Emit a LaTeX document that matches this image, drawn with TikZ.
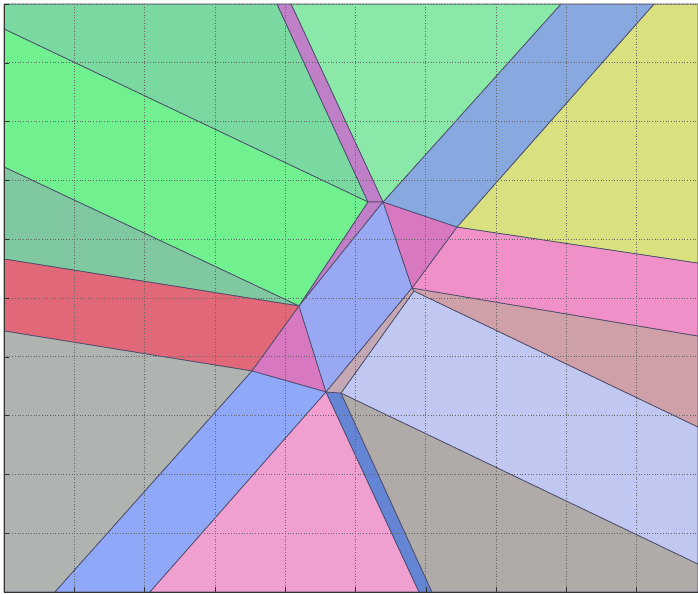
\documentclass[tikz,border=0pt]{standalone}
\usepackage{xcolor}
\definecolor{cDkGreen}{HTML}{7AD9A0}
\definecolor{cLtGreen}{HTML}{70F08E}
\definecolor{cGrGreen}{HTML}{80C8A0}
\definecolor{cRed}{HTML}{E06878}
\definecolor{cGrayL}{HTML}{B0B4B0}
\definecolor{cBlueL}{HTML}{90A8F8}
\definecolor{cPinkB}{HTML}{F0A0D0}
\definecolor{cDkBlue}{HTML}{6484D4}
\definecolor{cGrayR}{HTML}{B0AAA8}
\definecolor{cLav}{HTML}{C0C8F2}
\definecolor{cBrown}{HTML}{D0A0A8}
\definecolor{cPinkR}{HTML}{F090C8}
\definecolor{cMag}{HTML}{D878C0}
\definecolor{cYellow}{HTML}{D8E080}
\definecolor{cBlueT}{HTML}{88A8E0}
\definecolor{cTopGreen}{HTML}{8AE8A8}
\definecolor{cPurple}{HTML}{C080C8}
\definecolor{cCenter}{HTML}{98A8F2}
\definecolor{cTan}{HTML}{C4A8B4}
\definecolor{cEdge}{HTML}{4A4A6A}
\tikzset{
  region/.style={draw=cEdge, line width=0.7pt, line join=round},
  gridline/.style={draw=black!60, line width=0.7pt, dotted},
  frame/.style={draw=black!80, line width=0.9pt}
}
\begin{document}
\begin{tikzpicture}[x=1pt,y=-1pt]
\useasboundingbox (0,0) rectangle (698,594);
\fill[white] (0,0) rectangle (698,594);
% vertices
\coordinate (P1) at (368,202);
\coordinate (P2) at (383,202);
\coordinate (P3) at (299,306);
\coordinate (P4) at (412,288);
\coordinate (P4b) at (414,291);
\coordinate (P5) at (326,392);
\coordinate (Q) at (341,393);
\coordinate (R) at (252,371);
\coordinate (Y) at (457,227);
% regions
\path[region, fill=cDkGreen] (4,4) -- (277,4) -- (P1) -- (4,29) -- cycle;
\path[region, fill=cLtGreen] (4,29) -- (P1) -- (P3) -- (4,167) -- cycle;
\path[region, fill=cGrGreen] (4,167) -- (P3) -- (4,259) -- cycle;
\path[region, fill=cRed] (4,259) -- (P3) -- (R) -- (4,331) -- cycle;
\path[region, fill=cMag] (P3) -- (P5) -- (R) -- cycle;
\path[region, fill=cGrayL] (4,331) -- (R) -- (55,592) -- (4,592) -- cycle;
\path[region, fill=cBlueL] (R) -- (P5) -- (150,592) -- (55,592) -- cycle;
\path[region, fill=cPinkB] (P5) -- (419,592) -- (150,592) -- cycle;
\path[region, fill=cDkBlue] (P5) -- (Q) -- (432,592) -- (419,592) -- cycle;
\path[region, fill=cGrayR] (Q) -- (432,592) -- (698,592) -- (698,564) -- cycle;
\path[region, fill=cLav] (P4b) -- (698,427) -- (698,564) -- (Q) -- cycle;
\path[region, fill=cBrown] (P4) -- (698,336) -- (698,427) -- (P4b) -- cycle;
\path[region, fill=cPinkR] (Y) -- (698,263) -- (698,336) -- (P4) -- cycle;
\path[region, fill=cMag] (P2) -- (Y) -- (P4) -- cycle;
\path[region, fill=cYellow] (654,4) -- (698,4) -- (698,263) -- (Y) -- cycle;
\path[region, fill=cBlueT] (561,4) -- (654,4) -- (Y) -- (P2) -- cycle;
\path[region, fill=cTopGreen] (291,4) -- (561,4) -- (P2) -- cycle;
\path[region, fill=cPurple] (277,4) -- (291,4) -- (P2) -- (P1) -- cycle;
\path[region, fill=cPurple] (P1) -- (P2) -- (P3) -- cycle;
\path[region, fill=cCenter] (P2) -- (P4) -- (P5) -- (P3) -- cycle;
\path[region, fill=cTan] (P4) -- (P4b) -- (Q) -- (P5) -- cycle;
% grid
\foreach \gx in {74.3,144.6,214.9,285.2,355.5,425.8,496.1,566.4,636.7} {
  \draw[gridline] (\gx,4) -- (\gx,592);
}
\foreach \gy in {4,62.8,121.6,180.4,239.2,298,356.8,415.6,474.4,533.2} {
  \draw[gridline] (4,\gy) -- (698,\gy);
}
% frame and ticks
\draw[frame] (4,4) -- (4,592) -- (698,592);
\foreach \gx in {74.3,144.6,214.9,285.2,355.5,425.8,496.1,566.4,636.7} {
  \draw[frame, line width=0.6pt] (\gx,592) -- (\gx,587);
}
\foreach \gy in {4,62.8,121.6,180.4,239.2,298,356.8,415.6,474.4,533.2} {
  \draw[frame, line width=0.6pt] (4,\gy) -- (9,\gy);
}
\end{tikzpicture}
\end{document}
